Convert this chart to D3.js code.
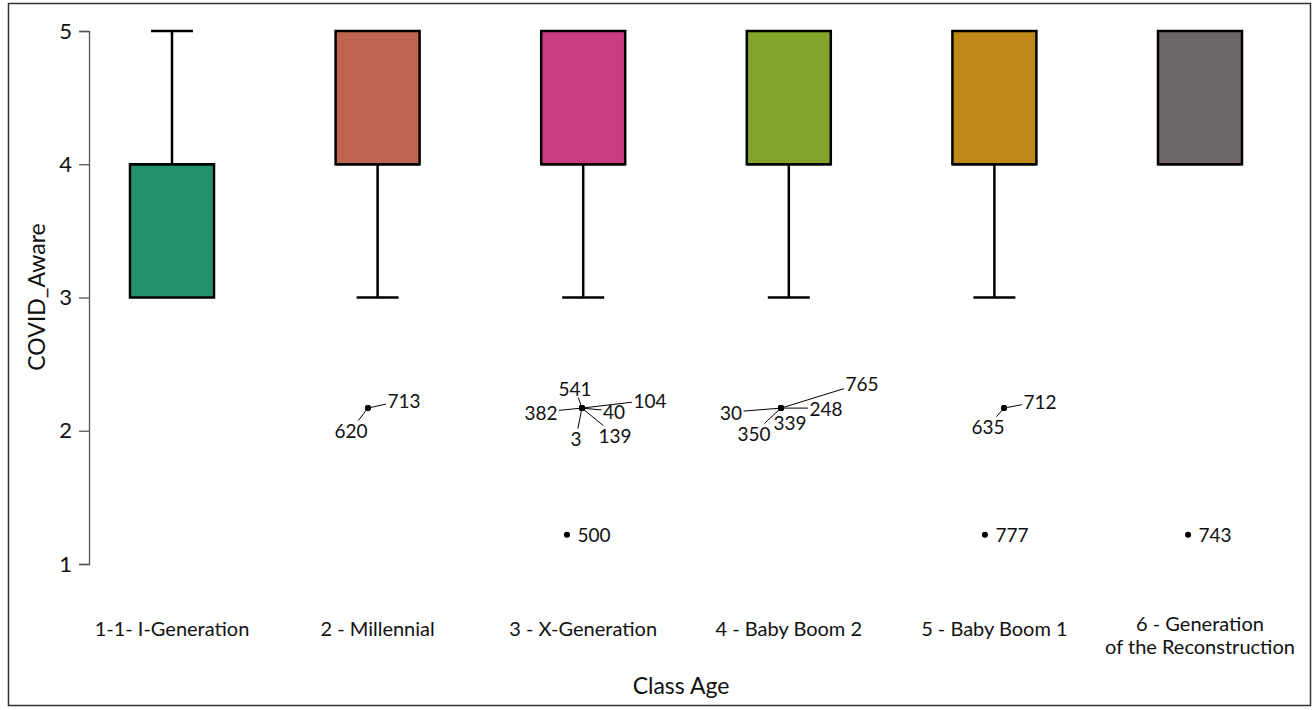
<!DOCTYPE html>
<html>
<head>
<meta charset="utf-8">
<script src="https://cdn.jsdelivr.net/npm/d3@7"></script>
<style>
  body { margin: 0; background: #fff; }
  svg { display: block; }
  text { font-family: Lato, "Open Sans", sans-serif; fill: #111; }
</style>
</head>
<body>
<svg id="chart" width="1316" height="710"></svg>
<script>
// ---- data ----
const categories = [
  "1-1- I-Generation",
  "2 - Millennial",
  "3 - X-Generation",
  "4 - Baby Boom 2",
  "5 - Baby Boom 1",
  "6 - Generation\nof the Reconstruction"
];
const whiskerLow  = [3, 3, 3, 3, 3, 4];
const quartile1   = [3, 4, 4, 4, 4, 4];
const medians     = [4, 4, 4, 4, 4, 4];
const quartile3   = [4, 5, 5, 5, 5, 5];
const whiskerHigh = [5, 5, 5, 5, 5, 5];
const boxColors   = ["#23926d", "#bf6450", "#ca3b82", "#83a32b", "#bf8917", "#6c6766"];

// outliers: group index, respondent id, value, horizontal jitter (fraction of step)
const outlierGroup  = [1, 1, 2, 2, 2, 2, 2, 2, 2, 3, 3, 3, 3, 3, 4, 4, 4, 5];
const outlierId     = ["713", "620", "541", "104", "382", "40", "139", "3", "500",
                       "765", "30", "248", "339", "350", "712", "635", "777", "743"];
const outlierValue  = [2.17, 2.17, 2.17, 2.17, 2.17, 2.17, 2.17, 2.17, 1.22,
                       2.17, 2.17, 2.17, 2.17, 2.17, 2.17, 2.17, 1.22, 1.22];
const outlierJitter = [-0.047, -0.047, -0.006, -0.006, -0.006, -0.006, -0.006, -0.006, -0.079,
                       -0.038, -0.038, -0.038, -0.038, -0.038, 0.047, 0.047, -0.046, -0.058];

const yTicks = [1, 2, 3, 4, 5];

// ---- label placement (offset of label centre from its point, px) ----
const labelDx = [36, -17, -7, 68, -41, 32, 33, -6, 27, 81, -50, 45, 9, -27, 36, -16, 27, 27];
const labelDy = [-8, 22, -20, -8, 4, 3, 27, 30, 0, -25, 4, 0, 14, 25, -7, 18, 0, 0];

// ---- layout ----
const svg = d3.select("#chart");

svg.append("rect")
  .attr("x", 8.5).attr("y", 3.5)
  .attr("width", 1302).attr("height", 702)
  .attr("fill", "none").attr("stroke", "#333").attr("stroke-width", 1.5);

const x = d3.scalePoint().domain(categories).range([172, 1200]);
const step = x.step();
const y = d3.scaleLinear().domain([1, 5]).range([564, 31]);

const boxW = 84, capW = 42;

// y axis
const yAxis = svg.append("g").attr("transform", "translate(89,0)")
  .call(d3.axisLeft(y).tickValues(yTicks).tickFormat(d3.format("d")).tickSize(10).tickPadding(7));
yAxis.select(".domain").attr("stroke", "#555").attr("stroke-width", 1.3);
yAxis.selectAll(".tick line").attr("stroke", "#555").attr("stroke-width", 1.3);
yAxis.selectAll(".tick text").attr("font-size", 22).attr("font-family", "Lato, sans-serif").attr("fill", "#111");

// x labels
categories.forEach((c) => {
  const lines = c.split("\n");
  const t = svg.append("text")
    .attr("x", x(c)).attr("text-anchor", "middle")
    .attr("font-size", 20);
  lines.forEach((ln, j) => {
    t.append("tspan")
      .attr("x", x(c))
      .attr("y", (lines.length > 1 ? 631 : 636) + j * 23)
      .text(ln);
  });
});

// axis titles
svg.append("text").attr("x", 681).attr("y", 694)
  .attr("text-anchor", "middle").attr("font-size", 23).text("Class Age");
svg.append("text")
  .attr("transform", "translate(45,297) rotate(-90)")
  .attr("text-anchor", "middle").attr("font-size", 23).text("COVID_Aware");

// boxes
const g = svg.append("g");
categories.forEach((c, i) => {
  const cx = x(c);
  const stroke = "#000", sw = 2.5;
  if (whiskerHigh[i] > quartile3[i]) {
    g.append("line").attr("x1", cx).attr("x2", cx)
      .attr("y1", y(quartile3[i])).attr("y2", y(whiskerHigh[i]))
      .attr("stroke", stroke).attr("stroke-width", sw);
    g.append("line").attr("x1", cx - capW / 2).attr("x2", cx + capW / 2)
      .attr("y1", y(whiskerHigh[i])).attr("y2", y(whiskerHigh[i]))
      .attr("stroke", stroke).attr("stroke-width", sw);
  }
  if (whiskerLow[i] < quartile1[i]) {
    g.append("line").attr("x1", cx).attr("x2", cx)
      .attr("y1", y(quartile1[i])).attr("y2", y(whiskerLow[i]))
      .attr("stroke", stroke).attr("stroke-width", sw);
    g.append("line").attr("x1", cx - capW / 2).attr("x2", cx + capW / 2)
      .attr("y1", y(whiskerLow[i])).attr("y2", y(whiskerLow[i]))
      .attr("stroke", stroke).attr("stroke-width", sw);
  }
  g.append("rect")
    .attr("x", cx - boxW / 2).attr("width", boxW)
    .attr("y", y(quartile3[i])).attr("height", y(quartile1[i]) - y(quartile3[i]))
    .attr("fill", boxColors[i]).attr("stroke", stroke).attr("stroke-width", sw);
  g.append("line").attr("x1", cx - boxW / 2).attr("x2", cx + boxW / 2)
    .attr("y1", y(medians[i])).attr("y2", y(medians[i]))
    .attr("stroke", stroke).attr("stroke-width", sw);
});

// outliers with repelled labels
const og = svg.append("g");
const fs = 19;
outlierId.forEach((id, k) => {
  const px = x(categories[outlierGroup[k]]) + outlierJitter[k] * step;
  const py = y(outlierValue[k]);
  const lx = px + labelDx[k], ly = py + labelDy[k];
  const t = og.append("text").attr("x", lx).attr("y", ly)
    .attr("text-anchor", "middle").attr("dominant-baseline", "central")
    .attr("font-size", fs).text(id);
  const bb = t.node().getBBox();
  const pad = 1.5;
  const x0 = bb.x - pad, x1 = bb.x + bb.width + pad;
  const y0 = ly - fs * 0.42 - pad, y1 = ly + fs * 0.42 + pad;
  // segment from point towards label centre, stopping at the label box
  const dx = lx - px, dy = ly - py;
  let tMin = 1;
  if (dx !== 0) {
    [x0, x1].forEach(ex => {
      const tt = (ex - px) / dx;
      const yy = py + tt * dy;
      if (tt > 0 && tt < tMin && yy >= y0 && yy <= y1) tMin = tt;
    });
  }
  if (dy !== 0) {
    [y0, y1].forEach(ey => {
      const tt = (ey - py) / dy;
      const xx = px + tt * dx;
      if (tt > 0 && tt < tMin && xx >= x0 && xx <= x1) tMin = tt;
    });
  }
  const ex = px + tMin * dx, ey = py + tMin * dy;
  if (Math.hypot(ex - px, ey - py) > 10) {
    og.append("line").attr("x1", px).attr("y1", py).attr("x2", ex).attr("y2", ey)
      .attr("stroke", "#000").attr("stroke-width", 1);
  }
  og.append("circle").attr("cx", px).attr("cy", py).attr("r", 3).attr("fill", "#000");
});
</script>
</body>
</html>
